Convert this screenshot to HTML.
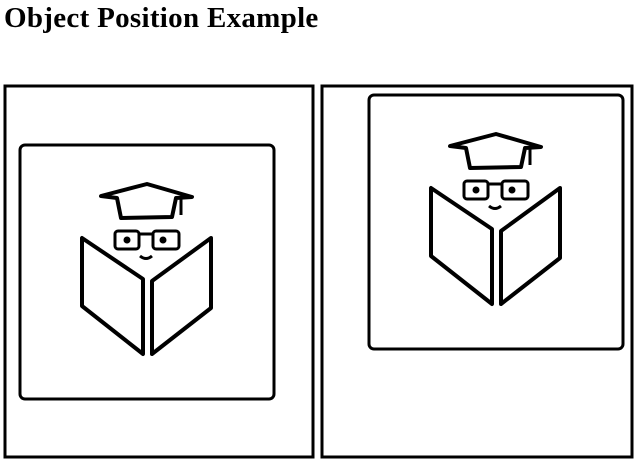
<!DOCTYPE html>
<html><head><meta charset="utf-8"><style>
body{margin:0;width:642px;height:465px;background:#fff;overflow:hidden;font-family:"Liberation Serif",serif}
h1{position:absolute;left:4px;top:3px;margin:0;font-size:29px;font-weight:bold;line-height:30px;letter-spacing:0.3px}
svg{position:absolute;left:0;top:0}
</style></head><body>
<h1>Object Position Example</h1>
<svg width="642" height="465">
<defs>
<g id="icon" fill="none" stroke="#000" stroke-linejoin="round">
<rect x="20" y="145" width="254" height="254" rx="5" stroke-width="3"/>
<path d="M101,196 L147,184 L192,197 L176,198 L172,217 L121,218 L117,198 Z" stroke-width="4"/>
<line x1="181" y1="198" x2="181" y2="215" stroke-width="3"/>
<rect x="115" y="231" width="24" height="18" rx="3" stroke-width="3"/>
<rect x="153" y="231" width="26" height="18" rx="3" stroke-width="3"/>
<line x1="139" y1="234" x2="153" y2="234" stroke-width="3"/>
<circle cx="127" cy="240" r="3.5" fill="#000" stroke="none"/>
<circle cx="163" cy="240" r="3.5" fill="#000" stroke="none"/>
<path d="M140,256 Q146,261 152,256" stroke-width="3"/>
<path d="M82,238 L82,306 L143,354 L143,279 Z" stroke-width="4"/>
<path d="M152,281 L152,354 L211,308 L211,238 Z" stroke-width="4"/>
</g>
</defs>
<rect x="5" y="86" width="308" height="371" fill="none" stroke="#000" stroke-width="3"/>
<rect x="322" y="86" width="310" height="371" fill="none" stroke="#000" stroke-width="3"/>
<use href="#icon"/>
<use href="#icon" transform="translate(349,-50)"/>
</svg>
</body></html>
